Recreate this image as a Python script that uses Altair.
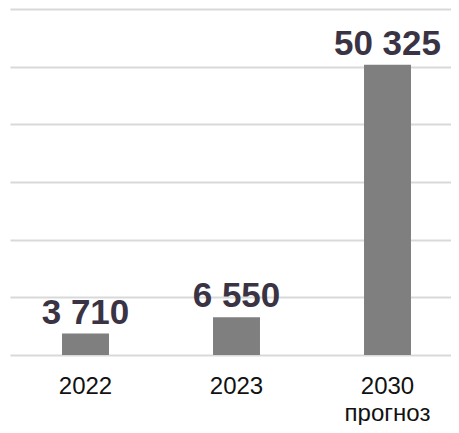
import altair as alt
import pandas as pd

categories = ["2022", "2023", "2030\nпрогноз"]
values = [3710, 6550, 50325]
value_labels = [f"{v:,}".replace(",", " ") for v in values]

df = pd.DataFrame({"cat": categories, "val": values, "lbl": value_labels})

x_enc = alt.X(
    "cat:N",
    sort=categories,
    title=None,
    scale=alt.Scale(range=[0, 453], paddingInner=0.689, paddingOuter=0.3445),
    axis=alt.Axis(
        labelAngle=0,
        labelFontSize=24,
        labelFont="Liberation Sans",
        labelColor="#111111",
        labelPadding=19,
        labelLineHeight=27,
        labelExpr="split(datum.label, '\\n')",
        ticks=False,
        tickSize=0,
        domain=False,
        grid=False,
    ),
)

y_enc = alt.Y(
    "val:Q",
    title=None,
    scale=alt.Scale(domain=[0, 60000], nice=False, zero=True),
    axis=alt.Axis(
        values=[0, 10000, 20000, 30000, 40000, 50000, 60000],
        labels=False,
        ticks=False,
        domain=False,
        grid=True,
        gridColor="#d9d9d9",
        gridWidth=1.8,
    ),
)

bars = alt.Chart(df).mark_bar(color="#7f7f7f").encode(x=x_enc, y=y_enc)

text = alt.Chart(df).mark_text(
    fontSize=35,
    fontWeight="bold",
    font="Liberation Sans",
    color="#3a3344",
    baseline="alphabetic",
    dy=-10,
).encode(x=alt.X("cat:N", sort=categories), y="val:Q", text="lbl:N")

chart = (
    alt.layer(bars, text)
    .properties(
        width=441,
        height=346,
        autosize=alt.AutoSizeParams(type="none"),
        padding={"left": 2, "top": 1, "right": 0, "bottom": 70},
    )
    .configure_view(stroke=None)
)

chart.save("out.html", embed_options={"renderer": "svg", "actions": False})
